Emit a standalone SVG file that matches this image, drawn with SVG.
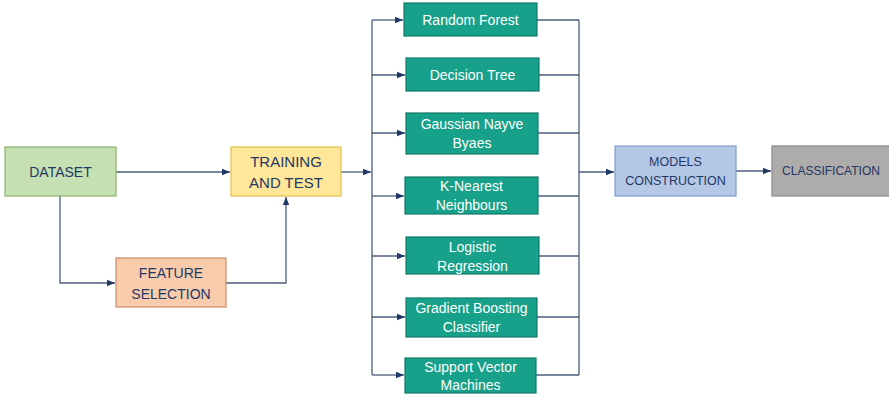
<svg xmlns="http://www.w3.org/2000/svg" width="889" height="394" viewBox="0 0 889 394">
  <style>
    .lbl { font-family: "Liberation Sans", Arial, sans-serif; text-anchor: middle; dominant-baseline: central; }
    .dark { fill: #1f3864; }
    .white { fill: #ffffff; font-size: 14px; }
    .model rect { fill: #17a18a; stroke: #0f7a68; stroke-width: 1.2; }
    .wire { fill: none; stroke: #4d5c7c; stroke-width: 1.3; }
  </style>
  <defs>
    <marker id="arr" viewBox="0 0 8 8" refX="8" refY="4" markerWidth="8" markerHeight="8" markerUnits="userSpaceOnUse" orient="auto">
      <path d="M0,0.8 L8,4 L0,7.2 z" fill="#1f3864"/>
    </marker>
  </defs>
  <rect width="889" height="394" fill="#ffffff"/>

  <!-- connectors -->
  <g id="connectors" class="wire">
    <path d="M116,172 H230" marker-end="url(#arr)"/>
    <path d="M60,196 V283 H115" marker-end="url(#arr)"/>
    <path d="M226,283 H286 V197" marker-end="url(#arr)"/>
    <path d="M341,172 H371" marker-end="url(#arr)"/>
    <!-- fan-out bus -->
    <path d="M372,20 V375"/>
    <path d="M372,20 H403" marker-end="url(#arr)"/>
    <path d="M372,75 H405" marker-end="url(#arr)"/>
    <path d="M372,133 H405" marker-end="url(#arr)"/>
    <path d="M372,196 H404" marker-end="url(#arr)"/>
    <path d="M372,256 H405" marker-end="url(#arr)"/>
    <path d="M372,317 H405" marker-end="url(#arr)"/>
    <path d="M372,375 H404" marker-end="url(#arr)"/>
    <!-- fan-in bus -->
    <path d="M579,20 V375"/>
    <path d="M537,20 H579"/>
    <path d="M539,75 H579"/>
    <path d="M538,133 H579"/>
    <path d="M538,196 H579"/>
    <path d="M539,256 H579"/>
    <path d="M537,317 H579"/>
    <path d="M536,375 H579"/>
    <path d="M579,172 H614" marker-end="url(#arr)"/>
    <path d="M736,171 H771" marker-end="url(#arr)"/>
  </g>

  <g id="dataset">
    <rect x="5" y="147" width="111" height="49" fill="#c5e0b3" stroke="#8db36c" stroke-width="1.2"/>
    <text class="lbl dark" x="60.5" y="172" font-size="14">DATASET</text>
  </g>
  <g id="training-test">
    <rect x="231" y="147" width="110" height="49" fill="#ffe699" stroke="#e2c04c" stroke-width="1.2"/>
    <text class="lbl dark" x="286" y="161" font-size="15">TRAINING</text>
    <text class="lbl dark" x="286" y="182" font-size="15">AND TEST</text>
  </g>
  <g id="feature-selection">
    <rect x="116" y="258" width="110" height="49" fill="#f8cbad" stroke="#c88b68" stroke-width="1.2"/>
    <text class="lbl dark" x="171" y="273" font-size="14">FEATURE</text>
    <text class="lbl dark" x="171" y="294" font-size="14">SELECTION</text>
  </g>

  <g id="random-forest" class="model">
    <rect x="404" y="3" width="133" height="33"/>
    <text class="lbl white" x="470.5" y="20">Random Forest</text>
  </g>
  <g id="decision-tree" class="model">
    <rect x="406" y="58" width="133" height="33"/>
    <text class="lbl white" x="472.5" y="75">Decision Tree</text>
  </g>
  <g id="gaussian-nb" class="model">
    <rect x="406" y="113" width="132" height="41"/>
    <text class="lbl white" x="472" y="124">Gaussian Nayve</text>
    <text class="lbl white" x="472" y="143">Byaes</text>
  </g>
  <g id="knn" class="model">
    <rect x="405" y="177" width="133" height="37"/>
    <text class="lbl white" x="471.5" y="186">K-Nearest</text>
    <text class="lbl white" x="471.5" y="205">Neighbours</text>
  </g>
  <g id="logistic-regression" class="model">
    <rect x="406" y="237" width="133" height="37"/>
    <text class="lbl white" x="472.5" y="247">Logistic</text>
    <text class="lbl white" x="472.5" y="266">Regression</text>
  </g>
  <g id="gradient-boosting" class="model">
    <rect x="406" y="298" width="131" height="39"/>
    <text class="lbl white" x="471.5" y="308">Gradient Boosting</text>
    <text class="lbl white" x="471.5" y="327">Classifier</text>
  </g>
  <g id="svm" class="model">
    <rect x="405" y="358" width="131" height="35"/>
    <text class="lbl white" x="470.5" y="367">Support Vector</text>
    <text class="lbl white" x="470.5" y="385">Machines</text>
  </g>

  <g id="models-construction">
    <rect x="615" y="146" width="121" height="50" fill="#b4c7e7" stroke="#7f9dcc" stroke-width="1.2"/>
    <text class="lbl dark" x="675.5" y="162" font-size="12.5">MODELS</text>
    <text class="lbl dark" x="675.5" y="181" font-size="12.5">CONSTRUCTION</text>
  </g>
  <g id="classification">
    <rect x="772" y="146" width="118" height="50" fill="#aeabab" stroke="#8a8888" stroke-width="1.2"/>
    <text class="lbl dark" x="831" y="171" font-size="12">CLASSIFICATION</text>
  </g>
</svg>
